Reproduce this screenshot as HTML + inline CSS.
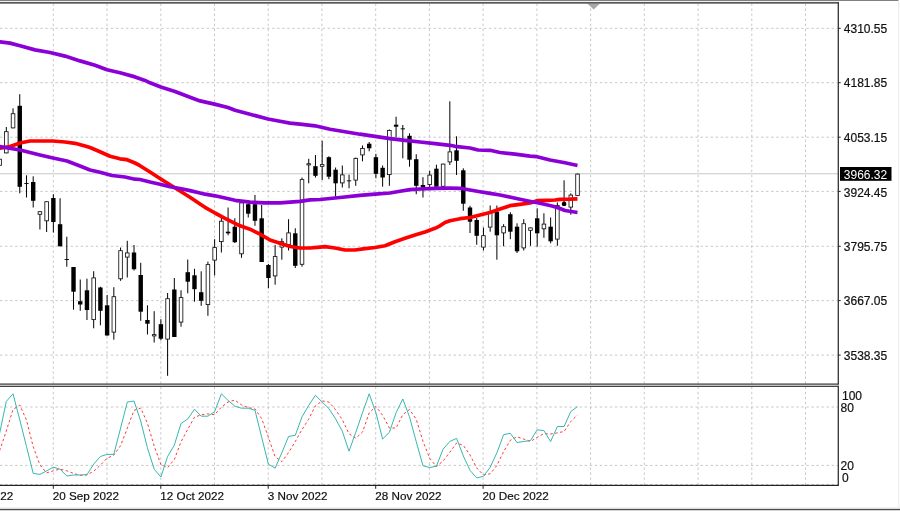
<!DOCTYPE html>
<html><head><meta charset="utf-8"><title>Chart</title>
<style>html,body{margin:0;padding:0;background:#fff}body{width:900px;height:511px;overflow:hidden}</style>
</head><body>
<svg width="900" height="511" viewBox="0 0 900 511" style="display:block" font-family="'Liberation Sans', sans-serif">
<rect width="900" height="511" fill="#fff"/>
<rect x="0" y="0" width="898.4" height="0.95" fill="#7a7a7a"/>
<rect x="898.2" y="1" width="1.1" height="508" fill="#ececec"/>
<rect x="0" y="507.2" width="900" height="1.7" fill="#eeeeee"/><rect x="0" y="508.9" width="900" height="1.15" fill="#4a4a4a"/><rect x="0" y="510.05" width="900" height="0.95" fill="#d4d4d4"/>
<path d="M53.3,3.5V384.1 M53.3,386.8V485.4 M107.0,3.5V384.1 M107.0,386.8V485.4 M160.8,3.5V384.1 M160.8,386.8V485.4 M214.5,3.5V384.1 M214.5,386.8V485.4 M268.2,3.5V384.1 M268.2,386.8V485.4 M321.9,3.5V384.1 M321.9,386.8V485.4 M375.7,3.5V384.1 M375.7,386.8V485.4 M429.4,3.5V384.1 M429.4,386.8V485.4 M483.1,3.5V384.1 M483.1,386.8V485.4 M536.9,3.5V384.1 M536.9,386.8V485.4 M590.6,3.5V384.1 M590.6,386.8V485.4 M644.3,3.5V384.1 M644.3,386.8V485.4 M698.1,3.5V384.1 M698.1,386.8V485.4 M751.8,3.5V384.1 M751.8,386.8V485.4 M805.5,3.5V384.1 M805.5,386.8V485.4 M0,28.3H838.3 M0,82.7H838.3 M0,137.2H838.3 M0,191.4H838.3 M0,246.3H838.3 M0,300.6H838.3 M0,355.1H838.3 M0,407.0H838.3 M0,465.4H838.3 M0,484.5H838.3" stroke="#bdbdbd" stroke-width="0.85" stroke-dasharray="2.4 2.64" fill="none"/>
<path d="M0,173.8H838.3" stroke="#c8c8c8" stroke-width="1.1" fill="none"/>
<path d="M587.3,3.6H600L593.7,9.4Z" fill="#a6a6a6"/>
<path d="M-0.40,158.8V165.7 M6.32,127.0V153.3 M13.04,108.3V128.3 M19.76,94.2V193.3 M26.48,175.3V197.5 M33.20,176.3V207.5 M39.92,211.3V229.5 M46.64,201.3V232.0 M53.36,194.2V232.5 M60.08,198.3V246.3 M66.80,236.7V266.7 M73.52,267.0V309.7 M80.24,279.5V310.8 M86.96,278.7V320.0 M93.68,271.2V328.3 M100.40,286.7V325.3 M107.12,295.0V335.5 M113.84,287.2V339.7 M120.56,247.5V280.8 M127.28,240.8V277.5 M134.00,245.0V270.5 M140.72,262.8V320.8 M147.44,305.3V334.5 M154.16,311.2V342.5 M160.88,319.2V340.3 M167.60,293.0V375.8 M174.32,278.0V337.0 M181.04,290.3V326.7 M187.76,259.5V293.3 M194.48,268.8V301.7 M201.20,271.3V305.8 M207.92,261.7V315.8 M214.64,239.2V275.5 M221.36,217.5V252.5 M228.08,207.5V235.3 M234.80,218.3V243.0 M241.52,200.0V257.8 M248.24,202.0V217.5 M254.96,195.0V225.8 M261.68,205.0V262.0 M268.40,264.0V288.3 M275.12,245.0V284.7 M281.84,238.3V259.7 M288.56,219.2V250.5 M295.28,228.3V268.0 M302.00,177.5V266.7 M308.72,158.8V183.3 M315.44,155.0V177.5 M322.16,140.8V180.0 M328.88,156.3V179.2 M335.60,167.5V196.7 M342.32,165.5V187.5 M349.04,174.7V188.3 M355.76,157.5V185.8 M362.48,145.5V161.3 M369.20,142.0V151.3 M375.92,153.8V178.3 M382.64,165.5V186.7 M389.36,129.5V185.8 M396.08,116.7V137.5 M402.80,125.0V158.3 M409.52,133.3V166.7 M416.24,154.2V194.2 M422.96,177.2V197.5 M429.68,170.8V188.0 M436.40,164.7V188.0 M443.12,163.7V188.0 M449.84,101.3V165.0 M456.56,136.3V175.0 M463.28,168.3V210.8 M470.00,205.8V233.0 M476.72,218.0V244.7 M483.44,227.5V250.5 M490.16,205.5V231.7 M496.88,205.5V259.7 M503.60,224.2V246.3 M510.32,212.2V239.2 M517.04,223.3V253.0 M523.76,219.2V250.5 M530.48,227.5V245.8 M537.20,208.3V246.7 M543.92,213.3V237.8 M550.64,217.5V243.3 M557.36,202.5V245.8 M564.08,180.3V206.0 M570.80,193.3V214.7 M577.52,173.5V195.8" stroke="#000" stroke-width="1" fill="none"/>
<g fill="#000"><rect x="17.56" y="105.8" width="4.4" height="81.0"/><rect x="24.28" y="183.0" width="4.4" height="0.9"/><rect x="31.00" y="182.0" width="4.4" height="18.8"/><rect x="51.16" y="198.0" width="4.4" height="24.0"/><rect x="57.88" y="224.2" width="4.4" height="22.1"/><rect x="64.60" y="259.1" width="4.4" height="0.9"/><rect x="71.32" y="267.0" width="4.4" height="24.7"/><rect x="78.04" y="301.2" width="4.4" height="3.3"/><rect x="84.76" y="290.3" width="4.4" height="19.7"/><rect x="98.20" y="287.5" width="4.4" height="23.3"/><rect x="104.92" y="305.3" width="4.4" height="30.2"/><rect x="131.80" y="252.5" width="4.4" height="16.7"/><rect x="138.52" y="275.0" width="4.4" height="36.7"/><rect x="145.24" y="320.0" width="4.4" height="3.7"/><rect x="158.68" y="324.2" width="4.4" height="14.5"/><rect x="172.12" y="289.5" width="4.4" height="47.5"/><rect x="185.56" y="272.2" width="4.4" height="9.5"/><rect x="192.28" y="275.3" width="4.4" height="13.9"/><rect x="199.00" y="292.2" width="4.4" height="8.6"/><rect x="225.88" y="231.7" width="4.4" height="1.6"/><rect x="232.60" y="226.7" width="4.4" height="15.5"/><rect x="246.04" y="204.2" width="4.4" height="9.5"/><rect x="252.76" y="204.2" width="4.4" height="16.6"/><rect x="259.48" y="218.3" width="4.4" height="43.7"/><rect x="266.20" y="265.0" width="4.4" height="13.0"/><rect x="293.08" y="233.3" width="4.4" height="32.5"/><rect x="313.24" y="166.2" width="4.4" height="9.6"/><rect x="326.68" y="157.2" width="4.4" height="19.5"/><rect x="333.40" y="169.7" width="4.4" height="13.6"/><rect x="346.84" y="180.4" width="4.4" height="0.9"/><rect x="367.00" y="143.7" width="4.4" height="4.6"/><rect x="373.72" y="157.2" width="4.4" height="16.6"/><rect x="380.44" y="167.8" width="4.4" height="9.7"/><rect x="393.88" y="124.7" width="4.4" height="2.0"/><rect x="400.60" y="128.4" width="4.4" height="0.9"/><rect x="407.32" y="135.8" width="4.4" height="23.9"/><rect x="414.04" y="159.2" width="4.4" height="26.6"/><rect x="420.76" y="185.0" width="4.4" height="2.5"/><rect x="434.20" y="168.7" width="4.4" height="18.0"/><rect x="454.36" y="150.3" width="4.4" height="10.5"/><rect x="461.08" y="170.3" width="4.4" height="33.4"/><rect x="467.80" y="207.5" width="4.4" height="14.2"/><rect x="474.52" y="220.0" width="4.4" height="15.8"/><rect x="494.68" y="211.7" width="4.4" height="23.6"/><rect x="508.12" y="214.2" width="4.4" height="17.5"/><rect x="514.84" y="226.7" width="4.4" height="24.6"/><rect x="535.00" y="218.3" width="4.4" height="15.0"/><rect x="548.44" y="226.7" width="4.4" height="14.6"/><rect x="561.88" y="201.8" width="4.4" height="4.2" rx="1.6"/></g>
<g fill="#fff" stroke="#111" stroke-width="0.85"><rect x="-2.20" y="159.2" width="3.6" height="6.1"/><rect x="4.52" y="131.7" width="3.6" height="21.2"/><rect x="11.24" y="113.7" width="3.6" height="14.2"/><rect x="38.12" y="211.7" width="3.6" height="2.6"/><rect x="44.84" y="201.7" width="3.6" height="19.1"/><rect x="91.88" y="277.9" width="3.6" height="41.7"/><rect x="112.04" y="296.7" width="3.6" height="35.4"/><rect x="118.76" y="250.7" width="3.6" height="28.1"/><rect x="125.48" y="252.9" width="3.6" height="4.2"/><rect x="152.36" y="334.6" width="3.6" height="1.3"/><rect x="165.80" y="298.7" width="3.6" height="40.4"/><rect x="179.24" y="297.6" width="3.6" height="24.5"/><rect x="206.12" y="264.6" width="3.6" height="40.0"/><rect x="212.84" y="247.6" width="3.6" height="12.5"/><rect x="219.56" y="221.2" width="3.6" height="20.4"/><rect x="239.72" y="202.9" width="3.6" height="50.9"/><rect x="273.32" y="256.6" width="3.6" height="19.3"/><rect x="280.04" y="241.7" width="3.6" height="5.4"/><rect x="286.76" y="232.9" width="3.6" height="11.7"/><rect x="300.20" y="179.6" width="3.6" height="84.7"/><rect x="306.92" y="163.7" width="3.6" height="1.2"/><rect x="320.36" y="164.6" width="3.6" height="1.7"/><rect x="340.52" y="174.9" width="3.6" height="8.0"/><rect x="353.96" y="158.4" width="3.6" height="21.7"/><rect x="360.68" y="148.4" width="3.6" height="6.5"/><rect x="387.56" y="130.4" width="3.6" height="44.2"/><rect x="427.88" y="175.1" width="3.6" height="9.5"/><rect x="441.32" y="164.1" width="3.6" height="22.2"/><rect x="448.04" y="151.9" width="3.6" height="10.0"/><rect x="481.64" y="235.7" width="3.6" height="11.4"/><rect x="488.36" y="212.9" width="3.6" height="14.2"/><rect x="501.80" y="226.7" width="3.6" height="6.2"/><rect x="521.96" y="223.7" width="3.6" height="24.2"/><rect x="528.68" y="227.9" width="3.6" height="2.4"/><rect x="542.12" y="224.1" width="3.6" height="4.7"/><rect x="555.56" y="205.4" width="3.6" height="33.7"/><rect x="569.00" y="195.1" width="3.6" height="12.0"/><rect x="575.72" y="174.1" width="3.6" height="21.3"/></g>
<path d="M-3.0,148.6 L0.0,148.3 L10.0,146.5 L20.0,143.0 L30.0,141.0 L53.0,141.0 L65.0,142.0 L75.0,143.3 L85.0,146.0 L90.0,147.5 L100.0,151.7 L110.0,156.3 L120.0,158.8 L127.0,159.7 L135.0,163.0 L140.0,165.7 L150.0,172.0 L160.0,178.5 L170.0,184.8 L180.0,191.0 L190.0,197.3 L200.0,204.0 L205.0,207.3 L215.0,213.0 L225.0,218.3 L235.0,223.3 L240.0,225.8 L250.0,229.2 L260.0,234.2 L270.0,240.0 L280.0,243.3 L290.0,246.5 L300.0,248.0 L310.0,248.0 L320.0,247.2 L325.0,246.7 L335.0,248.0 L345.0,250.0 L355.0,250.0 L365.0,248.7 L375.0,247.5 L385.0,245.8 L395.0,241.7 L405.0,238.3 L415.0,235.0 L425.0,232.0 L435.0,228.3 L440.0,225.8 L445.0,222.5 L450.0,220.8 L460.0,218.7 L470.0,217.5 L480.0,215.0 L490.0,212.5 L500.0,209.0 L510.0,205.7 L520.0,204.3 L530.0,203.0 L537.0,200.7 L547.0,200.3 L555.0,200.0 L560.0,199.4 L570.0,199.2 L577.5,198.8" stroke="#ff0000" stroke-width="3.7" fill="none" stroke-linejoin="round" stroke-linecap="butt"/>
<path d="M-3.0,41.5 L0.0,41.9 L10.0,43.1 L20.0,45.8 L35.0,49.9 L50.0,52.5 L65.0,56.1 L80.0,60.9 L95.0,65.3 L107.0,69.8 L120.0,72.8 L135.0,76.9 L145.0,80.4 L150.0,82.8 L160.8,87.0 L175.0,91.6 L190.0,97.3 L200.0,100.9 L214.5,104.1 L228.0,107.5 L235.0,110.3 L250.0,114.2 L268.0,119.0 L280.0,121.3 L290.0,123.1 L300.0,124.2 L315.0,125.8 L330.0,129.2 L345.0,131.7 L360.0,134.2 L375.0,136.3 L390.0,138.7 L405.0,140.3 L420.0,142.0 L435.0,143.6 L450.0,145.3 L455.0,146.3 L470.0,148.0 L478.0,150.0 L490.0,150.3 L500.0,152.5 L515.0,154.2 L530.0,156.2 L537.0,156.7 L550.0,160.0 L565.0,162.8 L577.5,165.5" stroke="#8a00d6" stroke-width="3.7" fill="none" stroke-linejoin="round" stroke-linecap="butt"/>
<path d="M-3.0,146.5 L0.0,146.7 L20.0,150.0 L40.0,155.0 L53.0,158.0 L67.0,161.0 L80.0,166.0 L90.0,170.0 L100.0,172.2 L112.0,175.5 L125.0,177.0 L135.0,179.2 L140.0,179.5 L150.0,182.0 L160.0,184.2 L170.0,186.8 L180.0,188.5 L190.0,190.6 L200.0,193.0 L205.0,194.2 L215.0,195.8 L225.0,198.0 L235.0,200.3 L250.0,202.1 L265.0,202.9 L280.0,202.9 L290.0,202.2 L300.0,201.4 L310.0,199.8 L320.0,199.5 L340.0,197.5 L360.0,195.3 L375.0,194.2 L390.0,193.0 L400.0,191.3 L410.0,189.7 L420.0,189.0 L435.0,188.3 L450.0,188.2 L460.0,188.3 L470.0,190.0 L480.0,191.7 L490.0,193.3 L500.0,195.0 L513.0,197.7 L527.0,200.7 L540.0,203.3 L553.0,206.3 L560.0,208.5 L565.0,210.5 L577.5,212.5" stroke="#8a00d6" stroke-width="3.7" fill="none" stroke-linejoin="round" stroke-linecap="butt"/>
<path d="M-0.4,450.7 L6.3,431.0 L13.0,409.5 L19.8,405.1 L26.5,420.1 L33.2,446.7 L39.9,464.8 L46.6,472.9 L53.4,470.8 L60.1,469.1 L66.8,470.8 L73.5,473.4 L80.2,475.3 L87.0,474.9 L93.7,471.2 L100.4,465.1 L107.1,458.3 L113.8,455.1 L120.6,445.6 L127.3,428.2 L134.0,410.4 L140.7,408.0 L147.4,423.2 L154.2,446.0 L160.9,464.6 L167.6,467.6 L174.3,459.6 L181.0,441.8 L187.8,429.2 L194.5,417.2 L201.2,414.8 L207.9,413.9 L214.6,414.7 L221.4,407.2 L228.1,402.0 L234.8,400.1 L241.5,404.9 L248.2,407.5 L255.0,408.9 L261.7,418.6 L268.4,437.3 L275.1,456.6 L281.8,461.7 L288.6,452.5 L295.3,441.5 L302.0,429.5 L308.7,419.2 L315.4,405.9 L322.2,400.9 L328.9,402.0 L335.6,409.8 L342.3,419.6 L349.0,433.8 L355.8,438.2 L362.5,432.1 L369.2,412.9 L375.9,406.4 L382.6,415.2 L389.4,428.0 L396.1,428.0 L402.8,414.7 L409.5,409.5 L416.2,419.1 L423.0,441.4 L429.7,458.3 L436.4,466.5 L443.1,461.0 L449.8,452.3 L456.6,443.0 L463.3,445.3 L470.0,454.9 L476.7,468.0 L483.4,474.9 L490.2,473.8 L496.9,465.5 L503.6,451.6 L510.3,440.3 L517.0,436.8 L523.8,439.1 L530.5,441.5 L537.2,437.3 L543.9,433.6 L550.6,434.0 L557.4,432.9 L564.1,431.5 L570.8,421.5 L577.5,414.9" stroke="#ff2020" stroke-width="0.9" stroke-dasharray="2.5 2.5" fill="none"/>
<path d="M-0.4,433.3 L6.3,401.4 L13.0,393.8 L19.8,420.0 L26.5,446.6 L33.2,473.4 L39.9,474.4 L46.6,470.9 L53.4,467.2 L60.1,469.2 L66.8,476.0 L73.5,475.0 L80.2,475.0 L87.0,474.6 L93.7,464.1 L100.4,456.5 L107.1,454.4 L113.8,454.4 L120.6,428.1 L127.3,402.0 L134.0,401.0 L140.7,421.0 L147.4,447.7 L154.2,469.2 L160.9,477.0 L167.6,456.5 L174.3,445.2 L181.0,423.6 L187.8,418.9 L194.5,409.2 L201.2,416.2 L207.9,416.2 L214.6,411.7 L221.4,393.8 L228.1,400.4 L234.8,406.2 L241.5,408.2 L248.2,408.2 L255.0,410.3 L261.7,437.4 L268.4,464.1 L275.1,468.2 L281.8,452.8 L288.6,436.4 L295.3,435.3 L302.0,416.8 L308.7,405.5 L315.4,395.3 L322.2,402.0 L328.9,408.6 L335.6,418.9 L342.3,431.2 L349.0,451.2 L355.8,432.3 L362.5,412.7 L369.2,393.8 L375.9,412.7 L382.6,439.0 L389.4,432.3 L396.1,412.7 L402.8,399.0 L409.5,416.8 L416.2,441.5 L423.0,465.8 L429.7,467.6 L436.4,466.2 L443.1,449.1 L449.8,441.5 L456.6,438.4 L463.3,455.9 L470.0,470.3 L476.7,477.9 L483.4,476.4 L490.2,467.2 L496.9,452.8 L503.6,434.7 L510.3,433.3 L517.0,442.5 L523.8,441.5 L530.5,440.5 L537.2,429.8 L543.9,430.6 L550.6,441.5 L557.4,426.5 L564.1,426.5 L570.8,411.5 L577.5,406.6" stroke="#2bb3aa" stroke-width="0.95" fill="none" stroke-linejoin="round"/>
<rect x="0" y="1.9" width="838.9" height="1.8" fill="#5a5a5a"/>
<rect x="0" y="383.5" width="838.3" height="1.2" fill="#333"/>
<rect x="0" y="385.7" width="838.3" height="1.2" fill="#333"/>
<rect x="0" y="484.8" width="838.3" height="1.2" fill="#222"/>
<rect x="837.65" y="2.1" width="1.3" height="382.6" fill="#333"/>
<rect x="837.65" y="385.7" width="1.3" height="100.3" fill="#333"/>
<path d="M838.3,28.3h2.4 M838.3,82.7h2.4 M838.3,137.2h2.4 M838.3,191.4h2.4 M838.3,246.3h2.4 M838.3,300.6h2.4 M838.3,355.1h2.4 M53.3,485.4v3.4 M160.8,485.4v3.4 M268.2,485.4v3.4 M375.7,485.4v3.4 M483.1,485.4v3.4" stroke="#222" stroke-width="1" fill="none"/>
<g font-size="12" fill="#111" stroke="#111" stroke-width="0.2">
<text x="843.8" y="32.6">4310.55</text>
<text x="843.8" y="87.2">4181.85</text>
<text x="843.8" y="141.9">4053.15</text>
<text x="843.8" y="196.6">3924.45</text>
<text x="843.8" y="251.1">3795.75</text>
<text x="843.8" y="305.3">3667.05</text>
<text x="843.8" y="360.0">3538.35</text>
<text x="842" y="399.5">100</text><text x="840.6" y="412.0">80</text><text x="840.6" y="469.9">20</text><text x="842" y="481.8">0</text>
</g>
<rect x="840" y="167" width="51.5" height="13.8" fill="#000"/>
<text x="843.8" y="178.9" font-size="12" fill="#fff">3966.32</text>
<g font-size="11.7" fill="#111" stroke="#111" stroke-width="0.2">
<text x="-52.5" y="499.7">29 Aug 2022</text>
<text x="52.8" y="499.7">20 Sep 2022</text>
<text x="160.3" y="499.7">12 Oct 2022</text>
<text x="267.7" y="499.7">3 Nov 2022</text>
<text x="375.2" y="499.7">28 Nov 2022</text>
<text x="482.6" y="499.7">20 Dec 2022</text>
</g>
</svg>
</body></html>
